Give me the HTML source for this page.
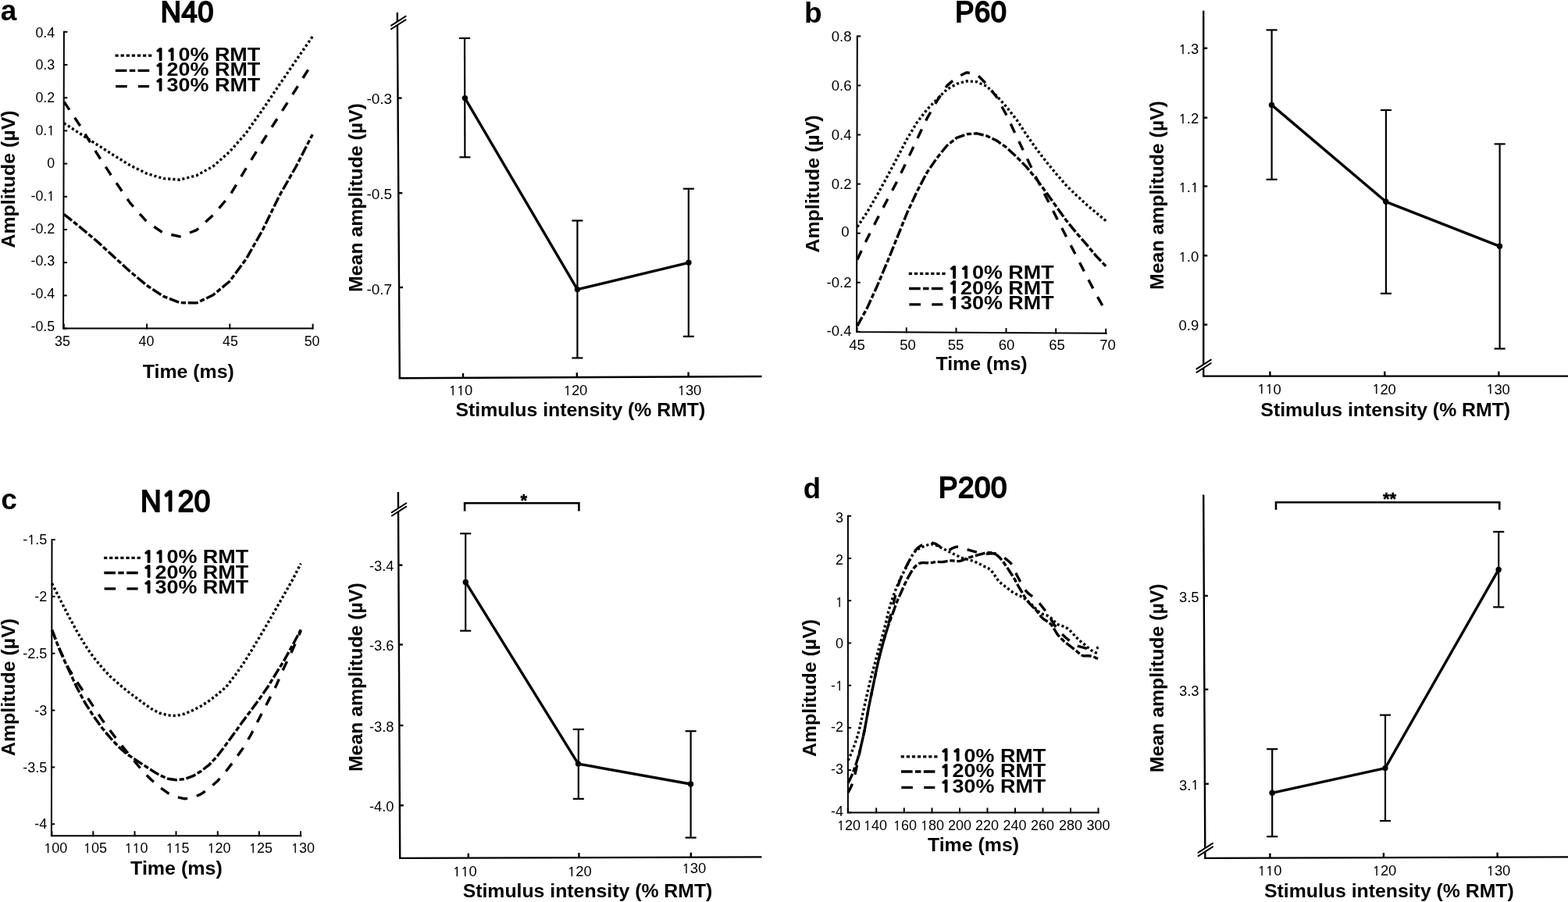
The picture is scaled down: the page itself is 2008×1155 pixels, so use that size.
<!DOCTYPE html>
<html lang="en">
<head>
<meta charset="utf-8">
<title>TEP amplitudes by stimulus intensity</title>
<style>
html,body{margin:0;padding:0;background:#fff;}
body{width:2008px;height:1155px;overflow:hidden;}
svg{display:block;}
svg text{font-family:"Liberation Sans", Arial, Helvetica, sans-serif;fill:#000;}
</style>
</head>
<body>
<svg xmlns="http://www.w3.org/2000/svg" width="2008" height="1155" viewBox="0 0 2008 1155" stroke="#000" fill="#000">
<rect x="0" y="0" width="2008" height="1155" fill="#fff" stroke="none"/>
<g stroke="#000">
<polyline points="81.90,39.80 81.10,420.60 401.20,420.60" fill="none" stroke-width="2" stroke-linejoin="miter"/>
<line x1="81.90" y1="40.80" x2="86.50" y2="40.80" stroke-width="2" stroke-linecap="butt"/>
<line x1="81.81" y1="83.00" x2="86.41" y2="83.00" stroke-width="2" stroke-linecap="butt"/>
<line x1="81.72" y1="125.20" x2="86.32" y2="125.20" stroke-width="2" stroke-linecap="butt"/>
<line x1="81.63" y1="167.40" x2="86.23" y2="167.40" stroke-width="2" stroke-linecap="butt"/>
<line x1="81.54" y1="209.60" x2="86.14" y2="209.60" stroke-width="2" stroke-linecap="butt"/>
<line x1="81.46" y1="251.80" x2="86.06" y2="251.80" stroke-width="2" stroke-linecap="butt"/>
<line x1="81.37" y1="294.00" x2="85.97" y2="294.00" stroke-width="2" stroke-linecap="butt"/>
<line x1="81.28" y1="336.20" x2="85.88" y2="336.20" stroke-width="2" stroke-linecap="butt"/>
<line x1="81.19" y1="378.40" x2="85.79" y2="378.40" stroke-width="2" stroke-linecap="butt"/>
<line x1="81.10" y1="420.60" x2="85.70" y2="420.60" stroke-width="2" stroke-linecap="butt"/>
<line x1="81.80" y1="421.60" x2="81.80" y2="414.60" stroke-width="2" stroke-linecap="butt"/>
<line x1="188.10" y1="421.60" x2="188.10" y2="414.60" stroke-width="2" stroke-linecap="butt"/>
<line x1="294.30" y1="421.60" x2="294.30" y2="414.60" stroke-width="2" stroke-linecap="butt"/>
<line x1="400.60" y1="421.60" x2="400.60" y2="414.60" stroke-width="2" stroke-linecap="butt"/>
<path d="M81.9,157.6 L103.1,171.5 L124.3,185.2 L145.6,198.8 L166.8,211.8 L188.0,222.2 L209.2,228.6 L230.4,230.2 L251.7,224.8 L272.9,212.9 L294.1,194.3 L315.3,170.1 L336.5,140.1 L357.8,108.4 L379.0,77.5 L400.2,46.7" fill="none" stroke-width="3.4" stroke-linejoin="round" stroke-dasharray="3.1 3.0" stroke-dashoffset="0"/>
<path d="M81.9,130.1 L103.1,161.8 L124.3,196.8 L145.6,229.4 L166.8,260.1 L188.0,284.0 L209.2,298.4 L230.4,302.8 L251.7,294.6 L272.9,275.5 L294.1,250.6 L315.3,215.2 L336.5,181.0 L357.8,147.6 L379.0,114.2 L400.2,80.4" fill="none" stroke-width="3.4" stroke-linejoin="round" stroke-dasharray="12.6 12.2" stroke-dashoffset="0"/>
<path d="M81.9,274.3 L103.1,291.3 L124.3,309.1 L145.6,328.5 L166.8,347.9 L188.0,365.5 L209.2,379.4 L230.4,387.6 L251.7,387.9 L272.9,377.8 L294.1,360.2 L315.3,331.5 L336.5,294.2 L357.8,250.6 L379.0,213.5 L400.2,172.2" fill="none" stroke-width="3.4" stroke-linejoin="round" stroke-dasharray="13 2.8 6.2 2.8" stroke-dashoffset="0"/>
<text transform="translate(70.20,47.62)" font-size="17.8" text-anchor="end" stroke="none">0.4</text>
<text transform="translate(70.20,89.44)" font-size="17.8" text-anchor="end" stroke="none">0.3</text>
<text transform="translate(70.20,131.26)" font-size="17.8" text-anchor="end" stroke="none">0.2</text>
<text transform="translate(70.20,173.08)" font-size="17.8" text-anchor="end" stroke="none">0.<tspan font-family='NanumGothic,"Liberation Sans",sans-serif' font-size="15.65" letter-spacing="0.42" font-weight="normal" stroke="#000" stroke-width="0.36" stroke-linejoin="miter" dy="-0.18">1</tspan></text>
<text transform="translate(70.20,214.90)" font-size="17.8" text-anchor="end" stroke="none">0</text>
<text transform="translate(70.20,256.72)" font-size="17.8" text-anchor="end" stroke="none">-0.<tspan font-family='NanumGothic,"Liberation Sans",sans-serif' font-size="15.65" letter-spacing="0.42" font-weight="normal" stroke="#000" stroke-width="0.36" stroke-linejoin="miter" dy="-0.18">1</tspan></text>
<text transform="translate(70.20,298.54)" font-size="17.8" text-anchor="end" stroke="none">-0.2</text>
<text transform="translate(70.20,340.36)" font-size="17.8" text-anchor="end" stroke="none">-0.3</text>
<text transform="translate(70.20,382.18)" font-size="17.8" text-anchor="end" stroke="none">-0.4</text>
<text transform="translate(70.20,424.00)" font-size="17.8" text-anchor="end" stroke="none">-0.5</text>
<text transform="translate(80.00,443.47)" font-size="17.8" text-anchor="middle" stroke="none">35</text>
<text transform="translate(187.50,443.47)" font-size="17.8" text-anchor="middle" stroke="none">40</text>
<text transform="translate(295.00,443.47)" font-size="17.8" text-anchor="middle" stroke="none">45</text>
<text transform="translate(399.60,443.47)" font-size="17.8" text-anchor="middle" stroke="none">50</text>
<path d="M147.5,71.1 h47.8" fill="none" stroke-width="3.3" stroke-dasharray="4.2 2.9"/>
<path d="M147.8,90.3 h43.5" fill="none" stroke-width="3.3" stroke-dasharray="14.6 3.4 7.4 3.4"/>
<path d="M148.1,110.6 h43" fill="none" stroke-width="3.3" stroke-dasharray="14.6 14.3"/>
<text transform="translate(198.60,77.80) scale(1.1223,1.0000)" font-size="24" text-anchor="start" font-weight="bold" stroke="none"><tspan font-family='NanumGothic,"Liberation Sans",sans-serif' font-size="18.88" letter-spacing="1.90" font-weight="normal" stroke="#000" stroke-width="2.16" stroke-linejoin="miter" dy="-1.08">11</tspan><tspan dy="1.08">0</tspan>% RMT</text>
<text transform="translate(198.60,97.30) scale(1.1223,1.0000)" font-size="24" text-anchor="start" font-weight="bold" stroke="none"><tspan font-family='NanumGothic,"Liberation Sans",sans-serif' font-size="18.88" letter-spacing="1.90" font-weight="normal" stroke="#000" stroke-width="2.16" stroke-linejoin="miter" dy="-1.08">1</tspan><tspan dy="1.08">2</tspan>0% RMT</text>
<text transform="translate(198.60,116.90) scale(1.1223,1.0000)" font-size="24" text-anchor="start" font-weight="bold" stroke="none"><tspan font-family='NanumGothic,"Liberation Sans",sans-serif' font-size="18.88" letter-spacing="1.90" font-weight="normal" stroke="#000" stroke-width="2.16" stroke-linejoin="miter" dy="-1.08">1</tspan><tspan dy="1.08">3</tspan>0% RMT</text>
<text transform="translate(239.90,27.80) scale(0.9630,1.0000)" font-size="37.6" text-anchor="middle" stroke="#000" stroke-width="2.0" stroke-linejoin="miter" letter-spacing="0.6">N40</text>
<text transform="translate(0.70,25.80)" font-size="37" text-anchor="start" font-weight="bold" stroke="none">a</text>
<text transform="translate(241.30,483.70) scale(1.0600,1.0000)" font-size="23.5" text-anchor="middle" font-weight="bold" stroke="none">Time (ms)</text>
<text transform="translate(18.60,229.50) rotate(-90) scale(1.0600,1.0000)" font-size="23.5" text-anchor="middle" font-weight="bold" stroke="none">Amplitude (µV)</text>
<polyline points="1097.80,45.40 1097.00,425.00 1417.60,426.80" fill="none" stroke-width="2" stroke-linejoin="miter"/>
<line x1="1097.80" y1="46.40" x2="1102.40" y2="46.40" stroke-width="2" stroke-linecap="butt"/>
<line x1="1097.67" y1="109.47" x2="1102.27" y2="109.47" stroke-width="2" stroke-linecap="butt"/>
<line x1="1097.53" y1="172.54" x2="1102.13" y2="172.54" stroke-width="2" stroke-linecap="butt"/>
<line x1="1097.40" y1="235.61" x2="1102.00" y2="235.61" stroke-width="2" stroke-linecap="butt"/>
<line x1="1097.27" y1="298.68" x2="1101.87" y2="298.68" stroke-width="2" stroke-linecap="butt"/>
<line x1="1097.13" y1="361.75" x2="1101.73" y2="361.75" stroke-width="2" stroke-linecap="butt"/>
<line x1="1097.00" y1="424.82" x2="1101.60" y2="424.82" stroke-width="2" stroke-linecap="butt"/>
<line x1="1097.60" y1="426.00" x2="1097.60" y2="419.00" stroke-width="2" stroke-linecap="butt"/>
<line x1="1160.80" y1="426.36" x2="1160.80" y2="419.36" stroke-width="2" stroke-linecap="butt"/>
<line x1="1224.50" y1="426.72" x2="1224.50" y2="419.72" stroke-width="2" stroke-linecap="butt"/>
<line x1="1288.50" y1="427.08" x2="1288.50" y2="420.08" stroke-width="2" stroke-linecap="butt"/>
<line x1="1352.20" y1="427.44" x2="1352.20" y2="420.44" stroke-width="2" stroke-linecap="butt"/>
<line x1="1416.20" y1="427.80" x2="1416.20" y2="420.80" stroke-width="2" stroke-linecap="butt"/>
<path d="M1097.8,290.6 L1110.6,271.5 L1123.3,249.7 L1136.1,226.3 L1148.8,202.4 L1161.6,177.8 L1174.3,156.7 L1187.1,140.3 L1199.8,127.3 L1212.6,114.4 L1225.3,107.4 L1238.1,103.8 L1250.8,104.8 L1263.6,110.4 L1276.3,122.8 L1289.1,137.0 L1301.8,153.2 L1314.6,172.6 L1327.3,190.8 L1340.1,207.4 L1352.8,222.8 L1365.6,237.6 L1378.3,249.9 L1391.1,261.7 L1403.8,272.4 L1416.6,283.1" fill="none" stroke-width="3.4" stroke-linejoin="round" stroke-dasharray="3.1 3.0" stroke-dashoffset="0"/>
<path d="M1097.8,417.5 L1110.6,394.1 L1123.3,366.2 L1136.1,335.8 L1148.8,304.5 L1161.6,272.6 L1174.3,245.3 L1187.1,220.9 L1199.8,202.4 L1212.6,186.5 L1225.3,176.4 L1238.1,171.8 L1250.8,170.8 L1263.6,174.0 L1276.3,180.0 L1289.1,189.0 L1301.8,200.9 L1314.6,213.9 L1327.3,229.3 L1340.1,246.8 L1352.8,264.7 L1365.6,282.4 L1378.3,298.0 L1391.1,312.7 L1403.8,327.8 L1416.6,341.3" fill="none" stroke-width="3.4" stroke-linejoin="round" stroke-dasharray="13 2.8 6.2 2.8" stroke-dashoffset="0"/>
<path d="M1097.8,332.4 L1110.6,305.5 L1123.3,280.6 L1136.1,256.2 L1148.8,232.3 L1161.6,205.5 L1174.3,178.5 L1187.1,151.7 L1199.8,129.3 L1212.6,109.9 L1225.3,98.9 L1238.1,92.8 L1250.8,95.1 L1263.6,107.9 L1276.3,124.3 L1289.1,147.7 L1301.8,174.6 L1314.6,201.5 L1327.3,228.3 L1340.1,253.2 L1352.8,278.3 L1365.6,303.4 L1378.3,327.8 L1391.1,352.7 L1403.8,377.1 L1416.6,399.5" fill="none" stroke-width="3.4" stroke-linejoin="round" stroke-dasharray="12.6 12.2" stroke-dashoffset="0"/>
<text transform="translate(1090.50,52.80)" font-size="18.6" text-anchor="end" stroke="none">0.8</text>
<text transform="translate(1090.50,115.87)" font-size="18.6" text-anchor="end" stroke="none">0.6</text>
<text transform="translate(1090.50,178.94)" font-size="18.6" text-anchor="end" stroke="none">0.4</text>
<text transform="translate(1090.50,242.01)" font-size="18.6" text-anchor="end" stroke="none">0.2</text>
<text transform="translate(1087.50,302.78)" font-size="18.6" text-anchor="end" stroke="none">0</text>
<text transform="translate(1090.50,368.15)" font-size="18.6" text-anchor="end" stroke="none">-0.2</text>
<text transform="translate(1090.50,430.22)" font-size="18.6" text-anchor="end" stroke="none">-0.4</text>
<text transform="translate(1097.50,447.80)" font-size="18.6" text-anchor="middle" stroke="none">45</text>
<text transform="translate(1162.50,447.80)" font-size="18.6" text-anchor="middle" stroke="none">50</text>
<text transform="translate(1224.00,447.80)" font-size="18.6" text-anchor="middle" stroke="none">55</text>
<text transform="translate(1289.00,447.80)" font-size="18.6" text-anchor="middle" stroke="none">60</text>
<text transform="translate(1353.50,447.80)" font-size="18.6" text-anchor="middle" stroke="none">65</text>
<text transform="translate(1418.50,447.80)" font-size="18.6" text-anchor="middle" stroke="none">70</text>
<path d="M1163.8,350.3 h47.8" fill="none" stroke-width="3.3" stroke-dasharray="4.2 2.9"/>
<path d="M1164.1,369.5 h43.5" fill="none" stroke-width="3.3" stroke-dasharray="14.6 3.4 7.4 3.4"/>
<path d="M1164.3999999999999,389.8 h43" fill="none" stroke-width="3.3" stroke-dasharray="14.6 14.3"/>
<text transform="translate(1215.00,357.00) scale(1.1223,1.0000)" font-size="24" text-anchor="start" font-weight="bold" stroke="none"><tspan font-family='NanumGothic,"Liberation Sans",sans-serif' font-size="18.88" letter-spacing="1.90" font-weight="normal" stroke="#000" stroke-width="2.16" stroke-linejoin="miter" dy="-1.08">11</tspan><tspan dy="1.08">0</tspan>% RMT</text>
<text transform="translate(1215.00,376.50) scale(1.1223,1.0000)" font-size="24" text-anchor="start" font-weight="bold" stroke="none"><tspan font-family='NanumGothic,"Liberation Sans",sans-serif' font-size="18.88" letter-spacing="1.90" font-weight="normal" stroke="#000" stroke-width="2.16" stroke-linejoin="miter" dy="-1.08">1</tspan><tspan dy="1.08">2</tspan>0% RMT</text>
<text transform="translate(1215.00,396.10) scale(1.1223,1.0000)" font-size="24" text-anchor="start" font-weight="bold" stroke="none"><tspan font-family='NanumGothic,"Liberation Sans",sans-serif' font-size="18.88" letter-spacing="1.90" font-weight="normal" stroke="#000" stroke-width="2.16" stroke-linejoin="miter" dy="-1.08">1</tspan><tspan dy="1.08">3</tspan>0% RMT</text>
<text transform="translate(1256.30,28.00) scale(0.9630,1.0000)" font-size="37.6" text-anchor="middle" stroke="#000" stroke-width="2.0" stroke-linejoin="miter" letter-spacing="0.6">P60</text>
<text transform="translate(1030.00,28.90)" font-size="37" text-anchor="start" font-weight="bold" stroke="none">b</text>
<text transform="translate(1257.00,473.50) scale(1.0600,1.0000)" font-size="23.5" text-anchor="middle" font-weight="bold" stroke="none">Time (ms)</text>
<text transform="translate(1048.50,235.50) rotate(-90) scale(1.0600,1.0000)" font-size="23.5" text-anchor="middle" font-weight="bold" stroke="none">Amplitude (µV)</text>
<polyline points="66.50,690.00 65.90,1070.20 386.30,1070.20" fill="none" stroke-width="2" stroke-linejoin="miter"/>
<line x1="66.50" y1="691.00" x2="70.70" y2="691.00" stroke-width="2" stroke-linecap="butt"/>
<line x1="66.38" y1="763.85" x2="70.58" y2="763.85" stroke-width="2" stroke-linecap="butt"/>
<line x1="66.27" y1="836.70" x2="70.47" y2="836.70" stroke-width="2" stroke-linecap="butt"/>
<line x1="66.15" y1="909.55" x2="70.35" y2="909.55" stroke-width="2" stroke-linecap="butt"/>
<line x1="66.04" y1="982.40" x2="70.24" y2="982.40" stroke-width="2" stroke-linecap="butt"/>
<line x1="65.92" y1="1055.25" x2="70.12" y2="1055.25" stroke-width="2" stroke-linecap="butt"/>
<line x1="66.50" y1="1071.20" x2="66.50" y2="1064.20" stroke-width="2" stroke-linecap="butt"/>
<line x1="119.30" y1="1071.20" x2="119.30" y2="1064.20" stroke-width="2" stroke-linecap="butt"/>
<line x1="172.50" y1="1071.20" x2="172.50" y2="1064.20" stroke-width="2" stroke-linecap="butt"/>
<line x1="225.50" y1="1071.20" x2="225.50" y2="1064.20" stroke-width="2" stroke-linecap="butt"/>
<line x1="278.80" y1="1071.20" x2="278.80" y2="1064.20" stroke-width="2" stroke-linecap="butt"/>
<line x1="331.80" y1="1071.20" x2="331.80" y2="1064.20" stroke-width="2" stroke-linecap="butt"/>
<line x1="385.00" y1="1071.20" x2="385.00" y2="1064.20" stroke-width="2" stroke-linecap="butt"/>
<path d="M66.5,747.0 L77.1,767.9 L87.8,788.8 L98.4,808.2 L109.0,826.1 L119.6,841.5 L130.3,854.4 L140.9,865.9 L151.5,875.3 L162.1,884.3 L172.8,892.3 L183.4,900.2 L194.0,907.7 L204.6,913.2 L215.3,915.9 L225.9,916.5 L236.5,914.0 L247.2,909.4 L257.8,903.9 L268.4,897.0 L279.0,888.8 L289.7,879.4 L300.3,865.7 L310.9,850.8 L321.5,833.9 L332.2,816.0 L342.8,798.0 L353.4,779.6 L364.0,761.1 L374.7,742.2 L385.3,721.6" fill="none" stroke-width="3.4" stroke-linejoin="round" stroke-dasharray="3.1 3.0" stroke-dashoffset="0"/>
<path d="M66.5,806.7 L77.1,834.0 L87.8,857.4 L98.4,880.3 L109.0,900.2 L119.6,916.7 L130.3,931.6 L140.9,944.4 L151.5,955.9 L162.1,965.3 L172.8,972.3 L183.4,979.3 L194.0,986.2 L204.6,992.7 L215.3,997.2 L225.9,998.7 L236.5,997.5 L247.2,993.7 L257.8,987.2 L268.4,978.8 L279.0,967.3 L289.7,953.0 L300.3,938.5 L310.9,923.8 L321.5,909.5 L332.2,895.0 L342.8,879.8 L353.4,862.5 L364.0,845.3 L374.7,826.1 L385.3,806.3" fill="none" stroke-width="3.4" stroke-linejoin="round" stroke-dasharray="13 2.8 6.2 2.8" stroke-dashoffset="0"/>
<path d="M66.5,806.7 L77.1,833.0 L87.8,855.9 L98.4,872.8 L109.0,888.8 L119.6,904.7 L130.3,920.9 L140.9,935.3 L151.5,949.4 L162.1,962.3 L172.8,975.3 L183.4,988.2 L194.0,998.7 L204.6,1008.1 L215.3,1015.6 L225.9,1020.4 L236.5,1022.8 L247.2,1021.4 L257.8,1016.6 L268.4,1009.1 L279.0,999.7 L289.7,987.2 L300.3,973.5 L310.9,958.5 L321.5,940.6 L332.2,919.4 L342.8,899.1 L353.4,878.5 L364.0,854.3 L374.7,831.9 L385.3,807.5" fill="none" stroke-width="3.4" stroke-linejoin="round" stroke-dasharray="12.6 12.2" stroke-dashoffset="0"/>
<text transform="translate(60.30,697.19)" font-size="18.0" text-anchor="end" stroke="none">-<tspan font-family='NanumGothic,"Liberation Sans",sans-serif' font-size="15.82" letter-spacing="0.42" font-weight="normal" stroke="#000" stroke-width="0.36" stroke-linejoin="miter" dy="-0.18">1</tspan><tspan dy="0.18">.</tspan>5</text>
<text transform="translate(60.30,770.04)" font-size="18.0" text-anchor="end" stroke="none">-2</text>
<text transform="translate(60.30,842.89)" font-size="18.0" text-anchor="end" stroke="none">-2.5</text>
<text transform="translate(60.30,915.74)" font-size="18.0" text-anchor="end" stroke="none">-3</text>
<text transform="translate(60.30,988.59)" font-size="18.0" text-anchor="end" stroke="none">-3.5</text>
<text transform="translate(60.30,1061.44)" font-size="18.0" text-anchor="end" stroke="none">-4</text>
<text transform="translate(71.30,1092.49)" font-size="18.0" text-anchor="middle" stroke="none"><tspan font-family='NanumGothic,"Liberation Sans",sans-serif' font-size="15.82" letter-spacing="0.42" font-weight="normal" stroke="#000" stroke-width="0.36" stroke-linejoin="miter" dy="-0.18">1</tspan><tspan dy="0.18">0</tspan>0</text>
<text transform="translate(122.00,1092.49)" font-size="18.0" text-anchor="middle" stroke="none"><tspan font-family='NanumGothic,"Liberation Sans",sans-serif' font-size="15.82" letter-spacing="0.42" font-weight="normal" stroke="#000" stroke-width="0.36" stroke-linejoin="miter" dy="-0.18">1</tspan><tspan dy="0.18">0</tspan>5</text>
<text transform="translate(174.50,1092.49)" font-size="18.0" text-anchor="middle" stroke="none"><tspan font-family='NanumGothic,"Liberation Sans",sans-serif' font-size="15.82" letter-spacing="0.42" font-weight="normal" stroke="#000" stroke-width="0.36" stroke-linejoin="miter" dy="-0.18">11</tspan><tspan dy="0.18">0</tspan></text>
<text transform="translate(227.50,1092.49)" font-size="18.0" text-anchor="middle" stroke="none"><tspan font-family='NanumGothic,"Liberation Sans",sans-serif' font-size="15.82" letter-spacing="0.42" font-weight="normal" stroke="#000" stroke-width="0.36" stroke-linejoin="miter" dy="-0.18">11</tspan><tspan dy="0.18">5</tspan></text>
<text transform="translate(280.50,1092.49)" font-size="18.0" text-anchor="middle" stroke="none"><tspan font-family='NanumGothic,"Liberation Sans",sans-serif' font-size="15.82" letter-spacing="0.42" font-weight="normal" stroke="#000" stroke-width="0.36" stroke-linejoin="miter" dy="-0.18">1</tspan><tspan dy="0.18">2</tspan>0</text>
<text transform="translate(334.00,1092.49)" font-size="18.0" text-anchor="middle" stroke="none"><tspan font-family='NanumGothic,"Liberation Sans",sans-serif' font-size="15.82" letter-spacing="0.42" font-weight="normal" stroke="#000" stroke-width="0.36" stroke-linejoin="miter" dy="-0.18">1</tspan><tspan dy="0.18">2</tspan>5</text>
<text transform="translate(388.00,1092.49)" font-size="18.0" text-anchor="middle" stroke="none"><tspan font-family='NanumGothic,"Liberation Sans",sans-serif' font-size="15.82" letter-spacing="0.42" font-weight="normal" stroke="#000" stroke-width="0.36" stroke-linejoin="miter" dy="-0.18">1</tspan><tspan dy="0.18">3</tspan>0</text>
<path d="M133.0,714.3 h47.8" fill="none" stroke-width="3.3" stroke-dasharray="4.2 2.9"/>
<path d="M133.3,733.5 h43.5" fill="none" stroke-width="3.3" stroke-dasharray="14.6 3.4 7.4 3.4"/>
<path d="M133.6,753.8 h43" fill="none" stroke-width="3.3" stroke-dasharray="14.6 14.3"/>
<text transform="translate(183.50,721.00) scale(1.1223,1.0000)" font-size="24" text-anchor="start" font-weight="bold" stroke="none"><tspan font-family='NanumGothic,"Liberation Sans",sans-serif' font-size="18.88" letter-spacing="1.90" font-weight="normal" stroke="#000" stroke-width="2.16" stroke-linejoin="miter" dy="-1.08">11</tspan><tspan dy="1.08">0</tspan>% RMT</text>
<text transform="translate(183.50,740.50) scale(1.1223,1.0000)" font-size="24" text-anchor="start" font-weight="bold" stroke="none"><tspan font-family='NanumGothic,"Liberation Sans",sans-serif' font-size="18.88" letter-spacing="1.90" font-weight="normal" stroke="#000" stroke-width="2.16" stroke-linejoin="miter" dy="-1.08">1</tspan><tspan dy="1.08">2</tspan>0% RMT</text>
<text transform="translate(183.50,760.10) scale(1.1223,1.0000)" font-size="24" text-anchor="start" font-weight="bold" stroke="none"><tspan font-family='NanumGothic,"Liberation Sans",sans-serif' font-size="18.88" letter-spacing="1.90" font-weight="normal" stroke="#000" stroke-width="2.16" stroke-linejoin="miter" dy="-1.08">1</tspan><tspan dy="1.08">3</tspan>0% RMT</text>
<text transform="translate(225.00,654.60) scale(0.9580,1.0000)" font-size="38.5" text-anchor="middle" stroke="#000" stroke-width="2.0" stroke-linejoin="miter" letter-spacing="0.6">N<tspan font-family='NanumGothic,"Liberation Sans",sans-serif' font-size="33.84" letter-spacing="0.90" font-weight="normal" stroke="#000" stroke-width="2.77" stroke-linejoin="miter" dy="-0.39">1</tspan><tspan dy="0.39">2</tspan>0</text>
<text transform="translate(1.30,651.80)" font-size="37" text-anchor="start" font-weight="bold" stroke="none">c</text>
<text transform="translate(225.90,1119.80) scale(1.0650,1.0000)" font-size="23.5" text-anchor="middle" font-weight="bold" stroke="none">Time (ms)</text>
<text transform="translate(18.60,880.00) rotate(-90) scale(1.0600,1.0000)" font-size="23.5" text-anchor="middle" font-weight="bold" stroke="none">Amplitude (µV)</text>
<polyline points="1085.90,659.70 1085.90,1040.40 1407.80,1040.40" fill="none" stroke-width="2" stroke-linejoin="miter"/>
<line x1="1085.90" y1="660.70" x2="1090.10" y2="660.70" stroke-width="2" stroke-linecap="butt"/>
<line x1="1085.90" y1="714.94" x2="1090.10" y2="714.94" stroke-width="2" stroke-linecap="butt"/>
<line x1="1085.90" y1="769.18" x2="1090.10" y2="769.18" stroke-width="2" stroke-linecap="butt"/>
<line x1="1085.90" y1="823.42" x2="1090.10" y2="823.42" stroke-width="2" stroke-linecap="butt"/>
<line x1="1085.90" y1="877.66" x2="1090.10" y2="877.66" stroke-width="2" stroke-linecap="butt"/>
<line x1="1085.90" y1="931.90" x2="1090.10" y2="931.90" stroke-width="2" stroke-linecap="butt"/>
<line x1="1085.90" y1="986.14" x2="1090.10" y2="986.14" stroke-width="2" stroke-linecap="butt"/>
<line x1="1085.90" y1="1040.38" x2="1090.10" y2="1040.38" stroke-width="2" stroke-linecap="butt"/>
<line x1="1085.80" y1="1041.40" x2="1085.80" y2="1034.40" stroke-width="2" stroke-linecap="butt"/>
<line x1="1122.20" y1="1041.40" x2="1122.20" y2="1034.40" stroke-width="2" stroke-linecap="butt"/>
<line x1="1157.80" y1="1041.40" x2="1157.80" y2="1034.40" stroke-width="2" stroke-linecap="butt"/>
<line x1="1193.50" y1="1041.40" x2="1193.50" y2="1034.40" stroke-width="2" stroke-linecap="butt"/>
<line x1="1229.00" y1="1041.40" x2="1229.00" y2="1034.40" stroke-width="2" stroke-linecap="butt"/>
<line x1="1264.50" y1="1041.40" x2="1264.50" y2="1034.40" stroke-width="2" stroke-linecap="butt"/>
<line x1="1300.00" y1="1041.40" x2="1300.00" y2="1034.40" stroke-width="2" stroke-linecap="butt"/>
<line x1="1335.50" y1="1041.40" x2="1335.50" y2="1034.40" stroke-width="2" stroke-linecap="butt"/>
<line x1="1371.00" y1="1041.40" x2="1371.00" y2="1034.40" stroke-width="2" stroke-linecap="butt"/>
<line x1="1406.50" y1="1041.40" x2="1406.50" y2="1034.40" stroke-width="2" stroke-linecap="butt"/>
<path d="M1086.0,973.8 L1087.8,969.9 L1089.6,965.9 L1091.3,961.7 L1093.1,957.1 L1094.9,952.2 L1096.7,947.0 L1098.5,941.1 L1100.3,934.5 L1102.0,927.0 L1103.8,918.7 L1105.6,910.4 L1107.4,902.3 L1109.2,894.4 L1111.0,886.6 L1112.7,878.8 L1114.5,871.4 L1116.3,864.5 L1118.1,857.9 L1119.9,851.4 L1121.6,844.8 L1123.4,838.1 L1125.2,831.5 L1127.0,825.0 L1128.8,818.6 L1130.6,812.3 L1132.3,805.8 L1134.1,798.7 L1135.9,790.9 L1137.7,783.3 L1139.5,776.9 L1141.2,771.3 L1143.0,766.0 L1144.8,760.9 L1146.6,756.0 L1148.4,751.5 L1150.2,747.2 L1151.9,743.3 L1153.7,739.7 L1155.5,736.1 L1157.3,732.5 L1159.1,728.9 L1160.9,725.3 L1162.6,721.8 L1164.4,718.2 L1166.2,714.8 L1168.0,711.6 L1169.8,708.9 L1171.5,706.6 L1173.3,704.8 L1175.1,703.5 L1176.9,702.4 L1178.7,701.5 L1180.5,700.7 L1182.2,700.0 L1184.0,699.3 L1185.8,698.6 L1187.6,698.0 L1189.4,697.4 L1191.2,697.0 L1192.9,696.8 L1194.7,697.0 L1196.5,697.4 L1198.3,698.0 L1200.1,698.7 L1201.8,699.6 L1203.6,700.5 L1205.4,701.4 L1207.2,702.2 L1209.0,703.1 L1210.8,704.0 L1212.5,704.9 L1214.3,705.8 L1216.1,706.7 L1217.9,707.6 L1219.7,708.5 L1221.4,709.4 L1223.2,710.3 L1225.0,711.2 L1226.8,712.1 L1228.6,713.0 L1230.4,713.7 L1232.1,714.4 L1233.9,714.9 L1235.7,715.4 L1237.5,715.9 L1239.3,716.4 L1241.1,716.8 L1242.8,717.3 L1244.6,717.9 L1246.4,718.5 L1248.2,719.2 L1250.0,720.0 L1251.7,720.8 L1253.5,721.7 L1255.3,722.6 L1257.1,723.5 L1258.9,724.5 L1260.7,725.4 L1262.4,726.2 L1264.2,727.0 L1266.0,727.9 L1267.8,729.2 L1269.6,730.9 L1271.4,733.1 L1273.1,735.6 L1274.9,738.3 L1276.7,741.0 L1278.5,743.4 L1280.3,745.4 L1282.0,747.0 L1283.8,748.4 L1285.6,749.7 L1287.4,751.1 L1289.2,752.4 L1291.0,753.8 L1292.7,755.3 L1294.5,756.7 L1296.3,757.9 L1298.1,759.0 L1299.9,759.9 L1301.6,760.9 L1303.4,761.7 L1305.2,762.6 L1307.0,763.4 L1308.8,764.4 L1310.6,765.5 L1312.3,766.6 L1314.1,768.0 L1315.9,769.5 L1317.7,771.0 L1319.5,772.6 L1321.3,774.3 L1323.0,776.0 L1324.8,777.9 L1326.6,779.7 L1328.4,781.6 L1330.2,783.3 L1331.9,784.6 L1333.7,785.6 L1335.5,786.4 L1337.3,787.0 L1339.1,787.5 L1340.9,788.1 L1342.6,789.0 L1344.4,790.2 L1346.2,791.6 L1348.0,793.4 L1349.8,795.3 L1351.6,797.1 L1353.3,798.6 L1355.1,799.8 L1356.9,800.6 L1358.7,801.1 L1360.5,801.6 L1362.2,802.3 L1364.0,803.0 L1365.8,804.0 L1367.6,805.2 L1369.4,806.7 L1371.2,808.4 L1372.9,810.3 L1374.7,812.2 L1376.5,814.1 L1378.3,816.0 L1380.1,817.8 L1381.8,819.5 L1383.6,821.1 L1385.4,822.6 L1387.2,824.0 L1389.0,825.4 L1390.8,826.9 L1392.5,828.4 L1394.3,830.0 L1396.1,831.5 L1397.9,832.9 L1399.7,834.0 L1401.5,835.0 L1403.2,835.8 L1405.0,836.6 L1406.8,837.3" fill="none" stroke-width="3.4" stroke-linejoin="round" stroke-dasharray="3.1 3.0" stroke-dashoffset="0"/>
<path d="M1086.0,1002.7 L1087.8,999.2 L1089.6,995.6 L1091.3,991.7 L1093.1,987.2 L1094.9,982.3 L1096.7,977.0 L1098.5,971.2 L1100.3,964.8 L1102.0,957.7 L1103.8,950.2 L1105.6,942.3 L1107.4,933.6 L1109.2,923.8 L1111.0,913.8 L1112.7,904.5 L1114.5,895.8 L1116.3,887.1 L1118.1,878.3 L1119.9,869.6 L1121.6,861.2 L1123.4,852.9 L1125.2,845.0 L1127.0,837.7 L1128.8,831.0 L1130.6,824.5 L1132.3,818.2 L1134.1,812.1 L1135.9,806.2 L1137.7,800.6 L1139.5,795.6 L1141.2,790.9 L1143.0,786.1 L1144.8,781.1 L1146.6,776.0 L1148.4,771.1 L1150.2,766.9 L1151.9,763.1 L1153.7,759.2 L1155.5,755.0 L1157.3,750.9 L1159.1,747.0 L1160.9,743.5 L1162.6,740.1 L1164.4,736.8 L1166.2,733.7 L1168.0,730.7 L1169.8,728.1 L1171.5,725.9 L1173.3,724.2 L1175.1,722.8 L1176.9,721.7 L1178.7,721.0 L1180.5,720.6 L1182.2,720.5 L1184.0,720.6 L1185.8,720.7 L1187.6,720.8 L1189.4,720.8 L1191.2,720.7 L1192.9,720.5 L1194.7,720.2 L1196.5,719.8 L1198.3,719.5 L1200.1,719.3 L1201.8,719.4 L1203.6,719.6 L1205.4,719.6 L1207.2,719.5 L1209.0,719.3 L1210.8,719.0 L1212.5,718.6 L1214.3,718.3 L1216.1,718.0 L1217.9,717.9 L1219.7,717.9 L1221.4,718.1 L1223.2,718.4 L1225.0,718.6 L1226.8,718.6 L1228.6,718.5 L1230.4,718.1 L1232.1,717.6 L1233.9,716.8 L1235.7,716.0 L1237.5,715.2 L1239.3,714.5 L1241.1,713.9 L1242.8,713.4 L1244.6,712.8 L1246.4,712.3 L1248.2,711.8 L1250.0,711.3 L1251.7,710.8 L1253.5,710.3 L1255.3,709.8 L1257.1,709.3 L1258.9,708.8 L1260.7,708.3 L1262.4,708.0 L1264.2,707.8 L1266.0,707.7 L1267.8,707.7 L1269.6,707.8 L1271.4,708.2 L1273.1,708.8 L1274.9,709.6 L1276.7,710.9 L1278.5,712.4 L1280.3,714.1 L1282.0,716.0 L1283.8,718.2 L1285.6,720.7 L1287.4,723.3 L1289.2,725.9 L1291.0,728.6 L1292.7,731.2 L1294.5,734.0 L1296.3,736.7 L1298.1,739.6 L1299.9,742.6 L1301.6,745.9 L1303.4,749.2 L1305.2,752.4 L1307.0,755.4 L1308.8,758.4 L1310.6,761.5 L1312.3,764.6 L1314.1,767.3 L1315.9,769.6 L1317.7,771.8 L1319.5,773.8 L1321.3,775.7 L1323.0,777.5 L1324.8,779.2 L1326.6,781.1 L1328.4,783.2 L1330.2,785.5 L1331.9,787.9 L1333.7,790.1 L1335.5,791.9 L1337.3,793.3 L1339.1,794.4 L1340.9,795.5 L1342.6,796.6 L1344.4,798.0 L1346.2,799.9 L1348.0,802.2 L1349.8,805.1 L1351.6,808.1 L1353.3,811.0 L1355.1,813.5 L1356.9,815.6 L1358.7,817.5 L1360.5,819.1 L1362.2,820.7 L1364.0,822.2 L1365.8,823.6 L1367.6,825.1 L1369.4,826.5 L1371.2,827.8 L1372.9,829.2 L1374.7,830.6 L1376.5,832.0 L1378.3,833.4 L1380.1,835.0 L1381.8,836.5 L1383.6,837.8 L1385.4,839.0 L1387.2,839.7 L1389.0,839.9 L1390.8,839.8 L1392.5,839.8 L1394.3,839.8 L1396.1,840.0 L1397.9,840.3 L1399.7,840.8 L1401.5,841.5 L1403.2,842.3 L1405.0,843.0 L1406.8,843.7" fill="none" stroke-width="3.4" stroke-linejoin="round" stroke-dasharray="13 2.8 6.2 2.8" stroke-dashoffset="0"/>
<path d="M1086.0,1015.0 L1087.8,1011.6 L1089.6,1008.0 L1091.3,1003.8 L1093.1,998.4 L1094.9,991.6 L1096.7,983.6 L1098.5,974.8 L1100.3,966.0 L1102.0,957.9 L1103.8,950.2 L1105.6,942.3 L1107.4,933.6 L1109.2,923.8 L1111.0,913.8 L1112.7,904.5 L1114.5,895.8 L1116.3,887.1 L1118.1,878.3 L1119.9,869.6 L1121.6,861.2 L1123.4,852.9 L1125.2,845.0 L1127.0,837.7 L1128.8,831.0 L1130.6,824.5 L1132.3,818.2 L1134.1,812.1 L1135.9,806.0 L1137.7,799.5 L1139.5,792.5 L1141.2,785.1 L1143.0,777.6 L1144.8,770.2 L1146.6,762.8 L1148.4,755.7 L1150.2,749.6 L1151.9,744.5 L1153.7,740.2 L1155.5,736.1 L1157.3,732.1 L1159.1,728.4 L1160.9,724.8 L1162.6,721.4 L1164.4,718.1 L1166.2,714.9 L1168.0,711.8 L1169.8,708.7 L1171.5,706.0 L1173.3,703.6 L1175.1,701.8 L1176.9,700.3 L1178.7,699.1 L1180.5,698.1 L1182.2,697.4 L1184.0,696.7 L1185.8,696.2 L1187.6,695.8 L1189.4,695.5 L1191.2,695.3 L1192.9,695.2 L1194.7,695.3 L1196.5,695.8 L1198.3,696.6 L1200.1,697.6 L1201.8,698.7 L1203.6,699.9 L1205.4,701.1 L1207.2,702.4 L1209.0,703.5 L1210.8,704.3 L1212.5,704.7 L1214.3,704.6 L1216.1,704.0 L1217.9,703.0 L1219.7,702.0 L1221.4,701.3 L1223.2,700.7 L1225.0,700.3 L1226.8,700.1 L1228.6,700.3 L1230.4,700.6 L1232.1,701.1 L1233.9,701.7 L1235.7,702.5 L1237.5,703.2 L1239.3,703.8 L1241.1,704.4 L1242.8,704.9 L1244.6,705.4 L1246.4,705.8 L1248.2,706.3 L1250.0,706.8 L1251.7,707.2 L1253.5,707.5 L1255.3,707.8 L1257.1,708.2 L1258.9,708.5 L1260.7,708.8 L1262.4,709.0 L1264.2,709.1 L1266.0,709.0 L1267.8,708.9 L1269.6,708.8 L1271.4,708.7 L1273.1,708.7 L1274.9,708.8 L1276.7,709.3 L1278.5,710.0 L1280.3,710.8 L1282.0,711.7 L1283.8,712.8 L1285.6,713.9 L1287.4,715.2 L1289.2,716.6 L1291.0,718.0 L1292.7,719.5 L1294.5,721.3 L1296.3,723.7 L1298.1,727.2 L1299.9,731.2 L1301.6,735.2 L1303.4,738.8 L1305.2,742.1 L1307.0,745.4 L1308.8,748.7 L1310.6,752.0 L1312.3,754.8 L1314.1,757.0 L1315.9,758.8 L1317.7,760.4 L1319.5,761.8 L1321.3,763.2 L1323.0,764.7 L1324.8,766.3 L1326.6,767.9 L1328.4,769.6 L1330.2,771.5 L1331.9,773.5 L1333.7,775.7 L1335.5,778.0 L1337.3,780.3 L1339.1,782.7 L1340.9,785.3 L1342.6,788.0 L1344.4,790.7 L1346.2,793.5 L1348.0,796.4 L1349.8,799.3 L1351.6,802.1 L1353.3,804.6 L1355.1,806.9 L1356.9,808.9 L1358.7,810.7 L1360.5,812.4 L1362.2,814.1 L1364.0,815.7 L1365.8,817.2 L1367.6,818.8 L1369.4,820.2 L1371.2,821.6 L1372.9,822.9 L1374.7,824.2 L1376.5,825.3 L1378.3,826.4 L1380.1,827.2 L1381.8,827.7 L1383.6,828.2 L1385.4,828.6 L1387.2,829.1 L1389.0,829.6 L1390.8,830.1 L1392.5,830.4 L1394.3,830.6 L1396.1,830.8 L1397.9,830.9 L1399.7,830.8 L1401.5,830.6 L1403.2,830.3 L1405.0,829.7 L1406.8,829.0" fill="none" stroke-width="3.4" stroke-linejoin="round" stroke-dasharray="12.6 12.2" stroke-dashoffset="0"/>
<text transform="translate(1080.00,669.49)" font-size="18.0" text-anchor="end" stroke="none">3</text>
<text transform="translate(1080.00,723.09)" font-size="18.0" text-anchor="end" stroke="none">2</text>
<text transform="translate(1080.00,776.69)" font-size="18.0" text-anchor="end" stroke="none"><tspan font-family='NanumGothic,"Liberation Sans",sans-serif' font-size="15.82" letter-spacing="0.42" font-weight="normal" stroke="#000" stroke-width="0.36" stroke-linejoin="miter" dy="-0.18">1</tspan></text>
<text transform="translate(1080.00,830.29)" font-size="18.0" text-anchor="end" stroke="none">0</text>
<text transform="translate(1080.00,883.89)" font-size="18.0" text-anchor="end" stroke="none">-<tspan font-family='NanumGothic,"Liberation Sans",sans-serif' font-size="15.82" letter-spacing="0.42" font-weight="normal" stroke="#000" stroke-width="0.36" stroke-linejoin="miter" dy="-0.18">1</tspan></text>
<text transform="translate(1080.00,937.49)" font-size="18.0" text-anchor="end" stroke="none">-2</text>
<text transform="translate(1080.00,991.09)" font-size="18.0" text-anchor="end" stroke="none">-3</text>
<text transform="translate(1080.00,1044.69)" font-size="18.0" text-anchor="end" stroke="none">-4</text>
<text transform="translate(1087.00,1062.99)" font-size="18.0" text-anchor="middle" stroke="none"><tspan font-family='NanumGothic,"Liberation Sans",sans-serif' font-size="15.82" letter-spacing="0.42" font-weight="normal" stroke="#000" stroke-width="0.36" stroke-linejoin="miter" dy="-0.18">1</tspan><tspan dy="0.18">2</tspan>0</text>
<text transform="translate(1121.00,1062.99)" font-size="18.0" text-anchor="middle" stroke="none"><tspan font-family='NanumGothic,"Liberation Sans",sans-serif' font-size="15.82" letter-spacing="0.42" font-weight="normal" stroke="#000" stroke-width="0.36" stroke-linejoin="miter" dy="-0.18">1</tspan><tspan dy="0.18">4</tspan>0</text>
<text transform="translate(1159.00,1062.99)" font-size="18.0" text-anchor="middle" stroke="none"><tspan font-family='NanumGothic,"Liberation Sans",sans-serif' font-size="15.82" letter-spacing="0.42" font-weight="normal" stroke="#000" stroke-width="0.36" stroke-linejoin="miter" dy="-0.18">1</tspan><tspan dy="0.18">6</tspan>0</text>
<text transform="translate(1194.00,1062.99)" font-size="18.0" text-anchor="middle" stroke="none"><tspan font-family='NanumGothic,"Liberation Sans",sans-serif' font-size="15.82" letter-spacing="0.42" font-weight="normal" stroke="#000" stroke-width="0.36" stroke-linejoin="miter" dy="-0.18">1</tspan><tspan dy="0.18">8</tspan>0</text>
<text transform="translate(1229.00,1062.99)" font-size="18.0" text-anchor="middle" stroke="none">200</text>
<text transform="translate(1264.00,1062.99)" font-size="18.0" text-anchor="middle" stroke="none">220</text>
<text transform="translate(1299.50,1062.99)" font-size="18.0" text-anchor="middle" stroke="none">240</text>
<text transform="translate(1335.00,1062.99)" font-size="18.0" text-anchor="middle" stroke="none">260</text>
<text transform="translate(1371.00,1062.99)" font-size="18.0" text-anchor="middle" stroke="none">280</text>
<text transform="translate(1406.50,1062.99)" font-size="18.0" text-anchor="middle" stroke="none">300</text>
<path d="M1153.7,968.8 h47.8" fill="none" stroke-width="3.3" stroke-dasharray="4.2 2.9"/>
<path d="M1154.0,988.0 h43.5" fill="none" stroke-width="3.3" stroke-dasharray="14.6 3.4 7.4 3.4"/>
<path d="M1154.3,1008.3 h43" fill="none" stroke-width="3.3" stroke-dasharray="14.6 14.3"/>
<text transform="translate(1204.60,975.50) scale(1.1223,1.0000)" font-size="24" text-anchor="start" font-weight="bold" stroke="none"><tspan font-family='NanumGothic,"Liberation Sans",sans-serif' font-size="18.88" letter-spacing="1.90" font-weight="normal" stroke="#000" stroke-width="2.16" stroke-linejoin="miter" dy="-1.08">11</tspan><tspan dy="1.08">0</tspan>% RMT</text>
<text transform="translate(1204.60,995.00) scale(1.1223,1.0000)" font-size="24" text-anchor="start" font-weight="bold" stroke="none"><tspan font-family='NanumGothic,"Liberation Sans",sans-serif' font-size="18.88" letter-spacing="1.90" font-weight="normal" stroke="#000" stroke-width="2.16" stroke-linejoin="miter" dy="-1.08">1</tspan><tspan dy="1.08">2</tspan>0% RMT</text>
<text transform="translate(1204.60,1014.60) scale(1.1223,1.0000)" font-size="24" text-anchor="start" font-weight="bold" stroke="none"><tspan font-family='NanumGothic,"Liberation Sans",sans-serif' font-size="18.88" letter-spacing="1.90" font-weight="normal" stroke="#000" stroke-width="2.16" stroke-linejoin="miter" dy="-1.08">1</tspan><tspan dy="1.08">3</tspan>0% RMT</text>
<text transform="translate(1246.00,637.00) scale(0.9750,1.0000)" font-size="37.6" text-anchor="middle" stroke="#000" stroke-width="2.0" stroke-linejoin="miter" letter-spacing="0.6">P200</text>
<text transform="translate(1028.80,637.50)" font-size="36.5" text-anchor="start" font-weight="bold" stroke="none">d</text>
<text transform="translate(1246.50,1090.00) scale(1.0600,1.0000)" font-size="23.5" text-anchor="middle" font-weight="bold" stroke="none">Time (ms)</text>
<text transform="translate(1045.00,881.00) rotate(-90) scale(1.0600,1.0000)" font-size="23.5" text-anchor="middle" font-weight="bold" stroke="none">Amplitude (µV)</text>
<polyline points="508.80,16.00 511.80,484.30 975.50,482.00" fill="none" stroke-width="2.4" stroke-linejoin="miter"/>
<line x1="501.10" y1="34.90" x2="519.50" y2="23.10" stroke="#fff" stroke-width="3.2"/>
<line x1="501.10" y1="32.70" x2="519.50" y2="20.90" stroke-width="2.0" stroke-linecap="round"/>
<line x1="501.10" y1="37.10" x2="519.50" y2="25.30" stroke-width="2.0" stroke-linecap="round"/>
<line x1="509.50" y1="125.60" x2="514.50" y2="125.60" stroke-width="2.4" stroke-linecap="butt"/>
<text transform="translate(502.20,132.94)" font-size="19.0" text-anchor="end" stroke="none">-0.3</text>
<line x1="510.28" y1="247.20" x2="515.28" y2="247.20" stroke-width="2.4" stroke-linecap="butt"/>
<text transform="translate(502.20,255.34)" font-size="19.0" text-anchor="end" stroke="none">-0.5</text>
<line x1="511.05" y1="368.00" x2="516.05" y2="368.00" stroke-width="2.4" stroke-linecap="butt"/>
<text transform="translate(502.20,377.44)" font-size="19.0" text-anchor="end" stroke="none">-0.7</text>
<line x1="593.00" y1="483.90" x2="593.00" y2="477.90" stroke-width="2.4" stroke-linecap="butt"/>
<text transform="translate(590.00,506.00)" font-size="18.4" text-anchor="middle" stroke="none"><tspan font-family='NanumGothic,"Liberation Sans",sans-serif' font-size="16.17" letter-spacing="0.43" font-weight="normal" stroke="#000" stroke-width="0.37" stroke-linejoin="miter" dy="-0.18">11</tspan><tspan dy="0.18">0</tspan></text>
<line x1="738.80" y1="483.17" x2="738.80" y2="477.17" stroke-width="2.4" stroke-linecap="butt"/>
<text transform="translate(737.00,506.00)" font-size="18.4" text-anchor="middle" stroke="none"><tspan font-family='NanumGothic,"Liberation Sans",sans-serif' font-size="16.17" letter-spacing="0.43" font-weight="normal" stroke="#000" stroke-width="0.37" stroke-linejoin="miter" dy="-0.18">1</tspan><tspan dy="0.18">2</tspan>0</text>
<line x1="881.60" y1="482.47" x2="881.60" y2="476.47" stroke-width="2.4" stroke-linecap="butt"/>
<text transform="translate(883.00,506.00)" font-size="18.4" text-anchor="middle" stroke="none"><tspan font-family='NanumGothic,"Liberation Sans",sans-serif' font-size="16.17" letter-spacing="0.43" font-weight="normal" stroke="#000" stroke-width="0.37" stroke-linejoin="miter" dy="-0.18">1</tspan><tspan dy="0.18">3</tspan>0</text>
<line x1="595.00" y1="48.90" x2="595.40" y2="201.30" stroke-width="2.2" stroke-linecap="butt"/>
<line x1="587.95" y1="48.90" x2="602.05" y2="48.90" stroke-width="2.2" stroke-linecap="butt"/>
<line x1="588.35" y1="201.30" x2="602.45" y2="201.30" stroke-width="2.2" stroke-linecap="butt"/>
<line x1="739.40" y1="282.50" x2="739.40" y2="458.40" stroke-width="2.2" stroke-linecap="butt"/>
<line x1="732.35" y1="282.50" x2="746.45" y2="282.50" stroke-width="2.2" stroke-linecap="butt"/>
<line x1="732.35" y1="458.40" x2="746.45" y2="458.40" stroke-width="2.2" stroke-linecap="butt"/>
<line x1="881.80" y1="241.70" x2="881.80" y2="430.80" stroke-width="2.2" stroke-linecap="butt"/>
<line x1="874.75" y1="241.70" x2="888.85" y2="241.70" stroke-width="2.2" stroke-linecap="butt"/>
<line x1="874.75" y1="430.80" x2="888.85" y2="430.80" stroke-width="2.2" stroke-linecap="butt"/>
<polyline points="595.40,125.60 739.40,370.60 881.90,336.30" fill="none" stroke-width="3.4" stroke-linejoin="round"/>
<circle cx="595.40" cy="125.60" r="3.7" fill="#000" stroke="none"/>
<circle cx="739.40" cy="370.60" r="3.7" fill="#000" stroke="none"/>
<circle cx="881.90" cy="336.30" r="3.7" fill="#000" stroke="none"/>
<text transform="translate(743.40,533.00) scale(1.0560,1.0000)" font-size="23.5" text-anchor="middle" font-weight="bold" stroke="none">Stimulus intensity (% RMT)</text>
<text transform="translate(464.30,253.00) rotate(-90) scale(1.0220,1.0000)" font-size="24.3" text-anchor="middle" font-weight="bold" stroke="none">Mean amplitude (µV)</text>
<polyline points="1541.20,13.70 1541.20,481.60 2009.00,481.60" fill="none" stroke-width="2.4" stroke-linejoin="miter"/>
<line x1="1532.40" y1="474.60" x2="1550.80" y2="462.80" stroke="#fff" stroke-width="3.2"/>
<line x1="1532.40" y1="472.40" x2="1550.80" y2="460.60" stroke-width="2.0" stroke-linecap="round"/>
<line x1="1532.40" y1="476.80" x2="1550.80" y2="465.00" stroke-width="2.0" stroke-linecap="round"/>
<line x1="1541.20" y1="61.70" x2="1546.20" y2="61.70" stroke-width="2.4" stroke-linecap="butt"/>
<text transform="translate(1535.20,68.93)" font-size="18.4" text-anchor="end" stroke="none"><tspan font-family='NanumGothic,"Liberation Sans",sans-serif' font-size="16.17" letter-spacing="0.43" font-weight="normal" stroke="#000" stroke-width="0.37" stroke-linejoin="miter" dy="-0.18">1</tspan><tspan dy="0.18">.</tspan>3</text>
<line x1="1541.20" y1="150.70" x2="1546.20" y2="150.70" stroke-width="2.4" stroke-linecap="butt"/>
<text transform="translate(1535.20,157.93)" font-size="18.4" text-anchor="end" stroke="none"><tspan font-family='NanumGothic,"Liberation Sans",sans-serif' font-size="16.17" letter-spacing="0.43" font-weight="normal" stroke="#000" stroke-width="0.37" stroke-linejoin="miter" dy="-0.18">1</tspan><tspan dy="0.18">.</tspan>2</text>
<line x1="1541.20" y1="238.50" x2="1546.20" y2="238.50" stroke-width="2.4" stroke-linecap="butt"/>
<text transform="translate(1535.20,245.73)" font-size="18.4" text-anchor="end" stroke="none"><tspan font-family='NanumGothic,"Liberation Sans",sans-serif' font-size="16.17" letter-spacing="0.43" font-weight="normal" stroke="#000" stroke-width="0.37" stroke-linejoin="miter" dy="-0.18">1</tspan><tspan dy="0.18">.</tspan><tspan font-family='NanumGothic,"Liberation Sans",sans-serif' font-size="16.17" letter-spacing="0.43" font-weight="normal" stroke="#000" stroke-width="0.37" stroke-linejoin="miter" dy="-0.18">1</tspan></text>
<line x1="1541.20" y1="327.30" x2="1546.20" y2="327.30" stroke-width="2.4" stroke-linecap="butt"/>
<text transform="translate(1535.20,335.33)" font-size="18.4" text-anchor="end" stroke="none"><tspan font-family='NanumGothic,"Liberation Sans",sans-serif' font-size="16.17" letter-spacing="0.43" font-weight="normal" stroke="#000" stroke-width="0.37" stroke-linejoin="miter" dy="-0.18">1</tspan><tspan dy="0.18">.</tspan>0</text>
<line x1="1541.20" y1="415.70" x2="1546.20" y2="415.70" stroke-width="2.4" stroke-linecap="butt"/>
<text transform="translate(1535.20,422.93)" font-size="18.4" text-anchor="end" stroke="none">0.9</text>
<line x1="1626.40" y1="481.60" x2="1626.40" y2="475.60" stroke-width="2.4" stroke-linecap="butt"/>
<text transform="translate(1625.50,504.50)" font-size="18.4" text-anchor="middle" stroke="none"><tspan font-family='NanumGothic,"Liberation Sans",sans-serif' font-size="16.17" letter-spacing="0.43" font-weight="normal" stroke="#000" stroke-width="0.37" stroke-linejoin="miter" dy="-0.18">11</tspan><tspan dy="0.18">0</tspan></text>
<line x1="1773.30" y1="481.60" x2="1773.30" y2="475.60" stroke-width="2.4" stroke-linecap="butt"/>
<text transform="translate(1772.50,504.50)" font-size="18.4" text-anchor="middle" stroke="none"><tspan font-family='NanumGothic,"Liberation Sans",sans-serif' font-size="16.17" letter-spacing="0.43" font-weight="normal" stroke="#000" stroke-width="0.37" stroke-linejoin="miter" dy="-0.18">1</tspan><tspan dy="0.18">2</tspan>0</text>
<line x1="1919.30" y1="481.60" x2="1919.30" y2="475.60" stroke-width="2.4" stroke-linecap="butt"/>
<text transform="translate(1918.50,504.50)" font-size="18.4" text-anchor="middle" stroke="none"><tspan font-family='NanumGothic,"Liberation Sans",sans-serif' font-size="16.17" letter-spacing="0.43" font-weight="normal" stroke="#000" stroke-width="0.37" stroke-linejoin="miter" dy="-0.18">1</tspan><tspan dy="0.18">3</tspan>0</text>
<line x1="1628.60" y1="38.40" x2="1628.60" y2="229.80" stroke-width="2.2" stroke-linecap="butt"/>
<line x1="1621.55" y1="38.40" x2="1635.65" y2="38.40" stroke-width="2.2" stroke-linecap="butt"/>
<line x1="1621.55" y1="229.80" x2="1635.65" y2="229.80" stroke-width="2.2" stroke-linecap="butt"/>
<line x1="1774.90" y1="141.00" x2="1774.90" y2="375.80" stroke-width="2.2" stroke-linecap="butt"/>
<line x1="1767.85" y1="141.00" x2="1781.95" y2="141.00" stroke-width="2.2" stroke-linecap="butt"/>
<line x1="1767.85" y1="375.80" x2="1781.95" y2="375.80" stroke-width="2.2" stroke-linecap="butt"/>
<line x1="1920.60" y1="184.40" x2="1920.60" y2="446.50" stroke-width="2.2" stroke-linecap="butt"/>
<line x1="1913.55" y1="184.40" x2="1927.65" y2="184.40" stroke-width="2.2" stroke-linecap="butt"/>
<line x1="1913.55" y1="446.50" x2="1927.65" y2="446.50" stroke-width="2.2" stroke-linecap="butt"/>
<polyline points="1628.50,134.40 1774.80,258.30 1920.50,315.30" fill="none" stroke-width="3.4" stroke-linejoin="round"/>
<circle cx="1628.50" cy="134.40" r="3.7" fill="#000" stroke="none"/>
<circle cx="1774.80" cy="258.30" r="3.7" fill="#000" stroke="none"/>
<circle cx="1920.50" cy="315.30" r="3.7" fill="#000" stroke="none"/>
<text transform="translate(1774.20,533.00) scale(1.0560,1.0000)" font-size="23.5" text-anchor="middle" font-weight="bold" stroke="none">Stimulus intensity (% RMT)</text>
<text transform="translate(1489.60,250.00) rotate(-90) scale(1.0220,1.0000)" font-size="24.3" text-anchor="middle" font-weight="bold" stroke="none">Mean amplitude (µV)</text>
<polyline points="509.90,630.00 512.20,1098.90 975.50,1097.40" fill="none" stroke-width="2.4" stroke-linejoin="miter"/>
<line x1="501.80" y1="658.30" x2="520.20" y2="646.50" stroke="#fff" stroke-width="3.2"/>
<line x1="501.80" y1="656.10" x2="520.20" y2="644.30" stroke-width="2.0" stroke-linecap="round"/>
<line x1="501.80" y1="660.50" x2="520.20" y2="648.70" stroke-width="2.0" stroke-linecap="round"/>
<line x1="510.36" y1="723.60" x2="515.36" y2="723.60" stroke-width="2.4" stroke-linecap="butt"/>
<text transform="translate(504.50,731.30)" font-size="18.3" text-anchor="end" stroke="none">-3.4</text>
<line x1="510.86" y1="825.40" x2="515.86" y2="825.40" stroke-width="2.4" stroke-linecap="butt"/>
<text transform="translate(504.50,833.30)" font-size="18.3" text-anchor="end" stroke="none">-3.6</text>
<line x1="511.37" y1="928.90" x2="516.37" y2="928.90" stroke-width="2.4" stroke-linecap="butt"/>
<text transform="translate(504.50,937.20)" font-size="18.3" text-anchor="end" stroke="none">-3.8</text>
<line x1="511.87" y1="1031.30" x2="516.87" y2="1031.30" stroke-width="2.4" stroke-linecap="butt"/>
<text transform="translate(504.50,1038.80)" font-size="18.3" text-anchor="end" stroke="none">-4.0</text>
<line x1="599.80" y1="1098.62" x2="599.80" y2="1092.62" stroke-width="2.4" stroke-linecap="butt"/>
<text transform="translate(595.40,1121.80)" font-size="18.4" text-anchor="middle" stroke="none"><tspan font-family='NanumGothic,"Liberation Sans",sans-serif' font-size="16.17" letter-spacing="0.43" font-weight="normal" stroke="#000" stroke-width="0.37" stroke-linejoin="miter" dy="-0.18">11</tspan><tspan dy="0.18">0</tspan></text>
<line x1="741.40" y1="1098.16" x2="741.40" y2="1092.16" stroke-width="2.4" stroke-linecap="butt"/>
<text transform="translate(742.30,1121.80)" font-size="18.4" text-anchor="middle" stroke="none"><tspan font-family='NanumGothic,"Liberation Sans",sans-serif' font-size="16.17" letter-spacing="0.43" font-weight="normal" stroke="#000" stroke-width="0.37" stroke-linejoin="miter" dy="-0.18">1</tspan><tspan dy="0.18">2</tspan>0</text>
<line x1="884.80" y1="1097.69" x2="884.80" y2="1091.69" stroke-width="2.4" stroke-linecap="butt"/>
<text transform="translate(888.90,1118.30)" font-size="18.4" text-anchor="middle" stroke="none"><tspan font-family='NanumGothic,"Liberation Sans",sans-serif' font-size="16.17" letter-spacing="0.43" font-weight="normal" stroke="#000" stroke-width="0.37" stroke-linejoin="miter" dy="-0.18">1</tspan><tspan dy="0.18">3</tspan>0</text>
<line x1="596.20" y1="683.20" x2="596.20" y2="807.70" stroke-width="2.2" stroke-linecap="butt"/>
<line x1="589.15" y1="683.20" x2="603.25" y2="683.20" stroke-width="2.2" stroke-linecap="butt"/>
<line x1="589.15" y1="807.70" x2="603.25" y2="807.70" stroke-width="2.2" stroke-linecap="butt"/>
<line x1="740.80" y1="933.90" x2="740.80" y2="1022.90" stroke-width="2.2" stroke-linecap="butt"/>
<line x1="733.75" y1="933.90" x2="747.85" y2="933.90" stroke-width="2.2" stroke-linecap="butt"/>
<line x1="733.75" y1="1022.90" x2="747.85" y2="1022.90" stroke-width="2.2" stroke-linecap="butt"/>
<line x1="884.60" y1="936.20" x2="884.60" y2="1072.60" stroke-width="2.2" stroke-linecap="butt"/>
<line x1="877.55" y1="936.20" x2="891.65" y2="936.20" stroke-width="2.2" stroke-linecap="butt"/>
<line x1="877.55" y1="1072.60" x2="891.65" y2="1072.60" stroke-width="2.2" stroke-linecap="butt"/>
<polyline points="596.30,745.40 740.50,978.10 884.50,1004.00" fill="none" stroke-width="3.4" stroke-linejoin="round"/>
<circle cx="596.30" cy="745.40" r="3.7" fill="#000" stroke="none"/>
<circle cx="740.50" cy="978.10" r="3.7" fill="#000" stroke="none"/>
<circle cx="884.50" cy="1004.00" r="3.7" fill="#000" stroke="none"/>
<polyline points="595.1,654.5 595.1,644.3 741.4,644.3 741.4,654.5" fill="none" stroke-width="2.6"/>
<text transform="translate(670.70,648.30)" font-size="22" text-anchor="middle" font-weight="bold" stroke="#000" stroke-width="0.5" stroke-linejoin="miter">*</text>
<text transform="translate(752.50,1149.10) scale(1.0560,1.0000)" font-size="23.5" text-anchor="middle" font-weight="bold" stroke="none">Stimulus intensity (% RMT)</text>
<text transform="translate(464.30,867.20) rotate(-90) scale(1.0220,1.0000)" font-size="24.3" text-anchor="middle" font-weight="bold" stroke="none">Mean amplitude (µV)</text>
<polyline points="1541.20,633.50 1543.30,1098.90 2009.00,1097.40" fill="none" stroke-width="2.4" stroke-linejoin="miter"/>
<line x1="1534.60" y1="1093.90" x2="1553.00" y2="1082.10" stroke="#fff" stroke-width="3.2"/>
<line x1="1534.60" y1="1091.70" x2="1553.00" y2="1079.90" stroke-width="2.0" stroke-linecap="round"/>
<line x1="1534.60" y1="1096.10" x2="1553.00" y2="1084.30" stroke-width="2.0" stroke-linecap="round"/>
<line x1="1541.78" y1="762.90" x2="1546.78" y2="762.90" stroke-width="2.4" stroke-linecap="butt"/>
<text transform="translate(1535.60,771.23)" font-size="18.4" text-anchor="end" stroke="none">3.5</text>
<line x1="1542.32" y1="882.80" x2="1547.32" y2="882.80" stroke-width="2.4" stroke-linecap="butt"/>
<text transform="translate(1535.60,890.63)" font-size="18.4" text-anchor="end" stroke="none">3.3</text>
<line x1="1542.87" y1="1003.70" x2="1547.87" y2="1003.70" stroke-width="2.4" stroke-linecap="butt"/>
<text transform="translate(1535.60,1011.53)" font-size="18.4" text-anchor="end" stroke="none">3.<tspan font-family='NanumGothic,"Liberation Sans",sans-serif' font-size="16.17" letter-spacing="0.43" font-weight="normal" stroke="#000" stroke-width="0.37" stroke-linejoin="miter" dy="-0.18">1</tspan></text>
<line x1="1626.40" y1="1098.63" x2="1626.40" y2="1092.63" stroke-width="2.4" stroke-linecap="butt"/>
<text transform="translate(1626.20,1121.30)" font-size="18.4" text-anchor="middle" stroke="none"><tspan font-family='NanumGothic,"Liberation Sans",sans-serif' font-size="16.17" letter-spacing="0.43" font-weight="normal" stroke="#000" stroke-width="0.37" stroke-linejoin="miter" dy="-0.18">11</tspan><tspan dy="0.18">0</tspan></text>
<line x1="1771.90" y1="1098.16" x2="1771.90" y2="1092.16" stroke-width="2.4" stroke-linecap="butt"/>
<text transform="translate(1773.00,1121.30)" font-size="18.4" text-anchor="middle" stroke="none"><tspan font-family='NanumGothic,"Liberation Sans",sans-serif' font-size="16.17" letter-spacing="0.43" font-weight="normal" stroke="#000" stroke-width="0.37" stroke-linejoin="miter" dy="-0.18">1</tspan><tspan dy="0.18">2</tspan>0</text>
<line x1="1917.60" y1="1097.69" x2="1917.60" y2="1091.69" stroke-width="2.4" stroke-linecap="butt"/>
<text transform="translate(1919.00,1121.30)" font-size="18.4" text-anchor="middle" stroke="none"><tspan font-family='NanumGothic,"Liberation Sans",sans-serif' font-size="16.17" letter-spacing="0.43" font-weight="normal" stroke="#000" stroke-width="0.37" stroke-linejoin="miter" dy="-0.18">1</tspan><tspan dy="0.18">3</tspan>0</text>
<line x1="1629.20" y1="959.20" x2="1629.20" y2="1071.20" stroke-width="2.2" stroke-linecap="butt"/>
<line x1="1622.15" y1="959.20" x2="1636.25" y2="959.20" stroke-width="2.2" stroke-linecap="butt"/>
<line x1="1622.15" y1="1071.20" x2="1636.25" y2="1071.20" stroke-width="2.2" stroke-linecap="butt"/>
<line x1="1774.00" y1="915.60" x2="1774.00" y2="1051.10" stroke-width="2.2" stroke-linecap="butt"/>
<line x1="1766.95" y1="915.60" x2="1781.05" y2="915.60" stroke-width="2.2" stroke-linecap="butt"/>
<line x1="1766.95" y1="1051.10" x2="1781.05" y2="1051.10" stroke-width="2.2" stroke-linecap="butt"/>
<line x1="1919.20" y1="680.90" x2="1919.20" y2="777.40" stroke-width="2.2" stroke-linecap="butt"/>
<line x1="1912.15" y1="680.90" x2="1926.25" y2="680.90" stroke-width="2.2" stroke-linecap="butt"/>
<line x1="1912.15" y1="777.40" x2="1926.25" y2="777.40" stroke-width="2.2" stroke-linecap="butt"/>
<polyline points="1629.10,1015.30 1773.90,983.60 1919.10,729.40" fill="none" stroke-width="3.4" stroke-linejoin="round"/>
<circle cx="1629.10" cy="1015.30" r="3.7" fill="#000" stroke="none"/>
<circle cx="1773.90" cy="983.60" r="3.7" fill="#000" stroke="none"/>
<circle cx="1919.10" cy="729.40" r="3.7" fill="#000" stroke="none"/>
<polyline points="1634,652.8 1634,643.3 1920.2,643.3 1920.2,652.8" fill="none" stroke-width="2.6"/>
<text transform="translate(1779.60,645.70)" font-size="22" text-anchor="middle" font-weight="bold" stroke="#000" stroke-width="0.5" stroke-linejoin="miter">**</text>
<text transform="translate(1778.90,1149.10) scale(1.0560,1.0000)" font-size="23.5" text-anchor="middle" font-weight="bold" stroke="none">Stimulus intensity (% RMT)</text>
<text transform="translate(1489.60,868.30) rotate(-90) scale(1.0220,1.0000)" font-size="24.3" text-anchor="middle" font-weight="bold" stroke="none">Mean amplitude (µV)</text>
</g>
</svg>
</body>
</html>
